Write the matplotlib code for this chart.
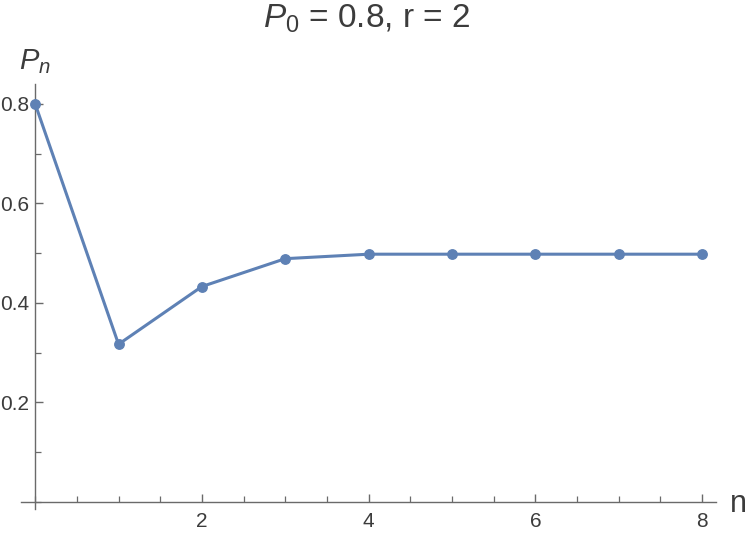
#!/usr/bin/env python3

import matplotlib
matplotlib.use("Agg")
import matplotlib.pyplot as plt
from matplotlib.ticker import MultipleLocator

# Values
n = [0, 1, 2, 3, 4, 5, 6, 7, 8]
p = [0.8, 0.317, 0.433, 0.489, 0.498, 0.498, 0.498, 0.498, 0.498]
xticks = [2, 4, 6, 8]
yticks = [0.2, 0.4, 0.6, 0.8]

plt.rcParams["font.family"] = ["Liberation Sans", "DejaVu Sans"]
plt.rcParams["mathtext.fontset"] = "custom"
plt.rcParams["mathtext.rm"] = "Liberation Sans"
plt.rcParams["mathtext.it"] = "Liberation Sans:italic"

text_col = "#3c3c3c"
axis_col = "#6a6a6a"
line_col = "#5e81b5"

fig = plt.figure(figsize=(7.5, 5.35), dpi=100)
ax = fig.add_axes([0.028, 0.0477, 0.927, 0.7953])

ax.plot(n, p, color=line_col, lw=2.2, marker="o", ms=6.8, zorder=3)

ax.set_xlim(-0.17, 8.17)
ax.set_ylim(-0.015, 0.84)

# Mathematica-style axes crossing at the origin
for side in ("top", "right"):
    ax.spines[side].set_visible(False)
ax.spines["left"].set_position(("data", 0))
ax.spines["bottom"].set_position(("data", 0))
for side in ("left", "bottom"):
    ax.spines[side].set_color(axis_col)
    ax.spines[side].set_linewidth(1.0)

ax.set_xticks(xticks)
ax.set_yticks(yticks)
ax.set_yticklabels(["0.2", "0.4", "0.6", "0.8"])
ax.xaxis.set_minor_locator(MultipleLocator(0.5))
ax.yaxis.set_minor_locator(MultipleLocator(0.1))
ax.tick_params(which="major", direction="in", length=6, width=1.0,
               color=axis_col, labelcolor=text_col, labelsize=15, pad=7)
ax.tick_params(which="minor", direction="in", length=4, width=0.9,
               color=axis_col)
ax.tick_params(axis="y", which="major", pad=4)

fig.text(0.489, 0.964, r"$P_0$ = 0.8, r = 2", ha="center", va="center",
         fontsize=24, color=text_col)
fig.text(0.047, 0.885, r"$P_n$", ha="center", va="center",
         fontsize=21, color=text_col)
fig.text(0.984, 0.058, "n", ha="center", va="center",
         fontsize=22, color=text_col)

plt.savefig("out.png", dpi=100)
